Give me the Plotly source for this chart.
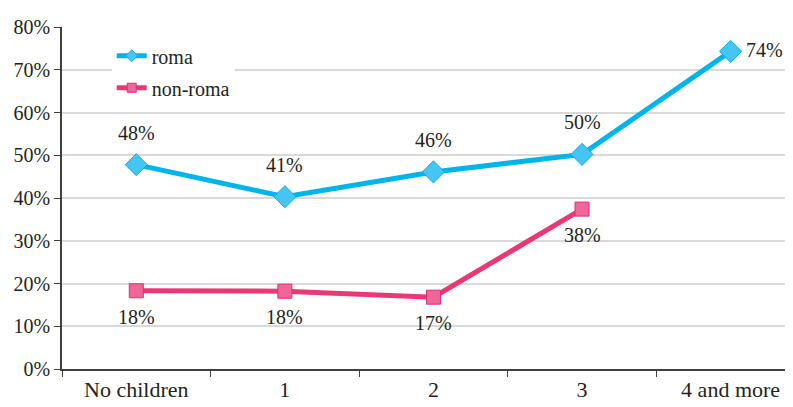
import plotly.graph_objects as go

categories = ["No children", "1", "2", "3", "4 and more"]
roma = [47.8, 40.3, 46.1, 50.2, 74.3]
roma_labels = ["48%", "41%", "46%", "50%", "74%"]
non_roma = [18.3, 18.2, 16.8, 37.4]
non_roma_labels = ["18%", "18%", "17%", "38%"]
y_ticks = [0, 10, 20, 30, 40, 50, 60, 70, 80]
y_tick_labels = [f"{v}%" for v in y_ticks]

FONT = "'Liberation Serif', 'Times New Roman', 'DejaVu Serif', serif"
FS = 20
TXT = "#231F20"
ROMA_LINE, ROMA_FILL, ROMA_EDGE = "#00B5EA", "#45C6F2", "#12ACE0"
NR_LINE, NR_FILL, NR_EDGE = "#EC3777", "#F0659A", "#E0306A"

fig = go.Figure()
fig.add_trace(go.Scatter(
    x=categories, y=roma, name="roma", mode="lines+markers",
    line=dict(color=ROMA_LINE, width=5),
    marker=dict(symbol="diamond", size=17, color=ROMA_FILL,
                line=dict(color=ROMA_EDGE, width=1)),
    showlegend=False,
))
fig.add_trace(go.Scatter(
    x=categories[:len(non_roma)], y=non_roma, name="non-roma", mode="lines+markers",
    line=dict(color=NR_LINE, width=5),
    marker=dict(symbol="square", size=14, color=NR_FILL,
                line=dict(color=NR_EDGE, width=1)),
    showlegend=False,
))
# legend entries with small markers, as in the reference
fig.add_trace(go.Scatter(
    x=[None], y=[None], name="roma", mode="lines+markers",
    line=dict(color=ROMA_LINE, width=5),
    marker=dict(symbol="diamond", size=9, color=ROMA_FILL,
                line=dict(color=ROMA_EDGE, width=1)),
    legendgroup="a",
))
fig.add_trace(go.Scatter(
    x=[None], y=[None], name="non-roma", mode="lines+markers",
    line=dict(color=NR_LINE, width=5),
    marker=dict(symbol="square", size=9, color=NR_FILL,
                line=dict(color=NR_EDGE, width=1)),
    legendgroup="b",
))

annotations = []
for i, (v, t) in enumerate(zip(roma, roma_labels)):
    if i == len(roma) - 1:
        annotations.append(dict(x=categories[i], y=v, text=t, showarrow=False,
                                xanchor="left", xshift=13, yshift=1))
    else:
        annotations.append(dict(x=categories[i], y=v, text=t, showarrow=False,
                                yshift=32))
for i, (v, t) in enumerate(zip(non_roma, non_roma_labels)):
    annotations.append(dict(x=categories[i], y=v, text=t, showarrow=False,
                            yshift=-26))

# the page body has an 8px margin; margins compensate for it
fig.update_layout(
    width=793, height=407,
    margin=dict(l=54, r=8, t=19, b=46, autoexpand=False),
    paper_bgcolor="white", plot_bgcolor="white",
    font=dict(family=FONT, size=FS, color=TXT),
    annotations=[dict(a, font=dict(family=FONT, size=FS, color=TXT)) for a in annotations],
    showlegend=True,
    legend=dict(x=0.068, y=0.973, xanchor="left", yanchor="top",
                bgcolor="white", font=dict(family=FONT, size=FS, color=TXT),
                traceorder="grouped", tracegroupgap=3),
    xaxis=dict(
        type="category", range=[-0.5, 4.42], automargin=False,
        showline=True, linecolor="#404040", linewidth=1.5,
        ticks="outside", ticklen=6, tickcolor="#404040", tickson="boundaries",
        showgrid=False, tickfont=dict(family=FONT, size=22, color=TXT),
    ),
    yaxis=dict(
        range=[0, 80], tickvals=y_ticks, ticktext=y_tick_labels, automargin=False,
        showline=True, linecolor="#404040", linewidth=1.5,
        ticks="outside", ticklen=6, tickcolor="#404040",
        showgrid=True, gridcolor="#D9D9D9", gridwidth=1.5,
        zeroline=False, tickfont=dict(family=FONT, size=FS, color=TXT),
    ),
)

fig.write_html("out.html")
